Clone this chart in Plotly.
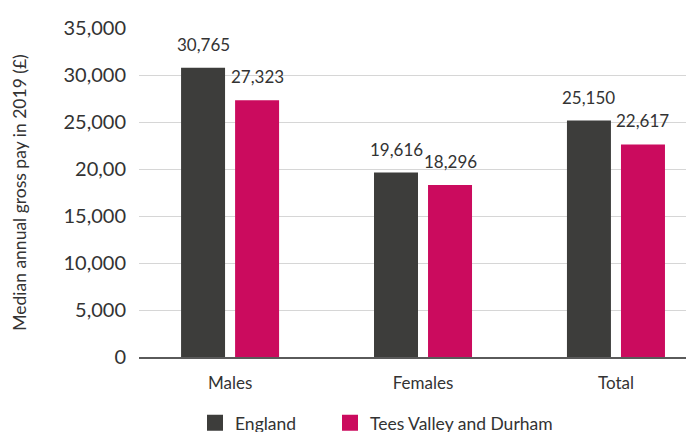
import plotly.graph_objects as go

categories = ["Males", "Females", "Total"]
england = [30765, 19616, 25150]
tees = [27323, 18296, 22617]
series_names = ["England", "Tees Valley and Durham"]
tick_values = [0, 5000, 10000, 15000, 20000, 25000, 30000, 35000]
tick_labels = ["0", "5,000", "10,000", "15,000", "20,00", "25,000", "30,000", "35,000"]

colors = ["#3d3d3b", "#cb0b5e"]
FONT = "Lato"
TXT = "#333333"

fig = go.Figure()
bar_w = 0.228
offsets = [-0.254, 0.026]
legends = ["legend", "legend2"]
for name, vals, col, off, lg in zip(series_names, [england, tees], colors, offsets, legends):
    fig.add_trace(go.Bar(
        x=categories, y=vals, name=name, marker=dict(color=col, line=dict(width=0)),
        width=bar_w, offset=off, showlegend=False, hoverinfo="x+y",
    ))
    fig.add_trace(go.Scatter(
        x=[None], y=[None], mode="markers", name=name, legend=lg,
        marker=dict(symbol="square", size=16, color=col), showlegend=True,
    ))

# value labels
for vals, off in zip([england, tees], offsets):
    for c, v in zip(categories, vals):
        fig.add_annotation(
            x=c, y=v, text=f"{v:,}", showarrow=False, xref="x", yref="y",
            xshift=(off + bar_w / 2) * 193, yanchor="bottom", yshift=11,
            font=dict(family=FONT, size=17, color=TXT),
        )

leg_common = dict(orientation="h", yanchor="middle", y=-0.2, xanchor="left",
                  font=dict(family=FONT, size=17.5, color=TXT), itemclick=False,
                  bgcolor="rgba(0,0,0,0)")
fig.update_layout(
    width=686, height=432,
    margin=dict(l=139, r=0, t=28, b=75, autoexpand=False),
    plot_bgcolor="white", paper_bgcolor="white",
    font=dict(family=FONT, color=TXT),
    barmode="overlay",
    legend=dict(x=(195 - 139) / 547, **leg_common),
    legend2=dict(x=(330 - 139) / 547, **leg_common),
    xaxis=dict(
        range=[-0.472, 2.363], showline=True, linecolor="#5a5a5a", linewidth=2,
        showgrid=False, ticks="outside", ticklen=10, tickcolor="rgba(0,0,0,0)",
        tickfont=dict(family=FONT, size=17, color=TXT),
        fixedrange=True, automargin=False,
    ),
    yaxis=dict(
        range=[0, 35000], tickvals=tick_values, ticktext=tick_labels,
        showgrid=True, gridcolor="#d6d6d6", gridwidth=1.3, zeroline=False,
        ticks="outside", ticklen=8, tickcolor="rgba(0,0,0,0)",
        tickfont=dict(family=FONT, size=20, color=TXT),
        title=dict(text="Median annual gross pay in 2019 (£)",
                   font=dict(family=FONT, size=17.5, color=TXT), standoff=32),
        fixedrange=True, automargin=False,
    ),
)

fig.write_html("out.html", config={"displayModeBar": False},
               post_script="document.body.style.margin='0';document.body.style.overflow='hidden';")
